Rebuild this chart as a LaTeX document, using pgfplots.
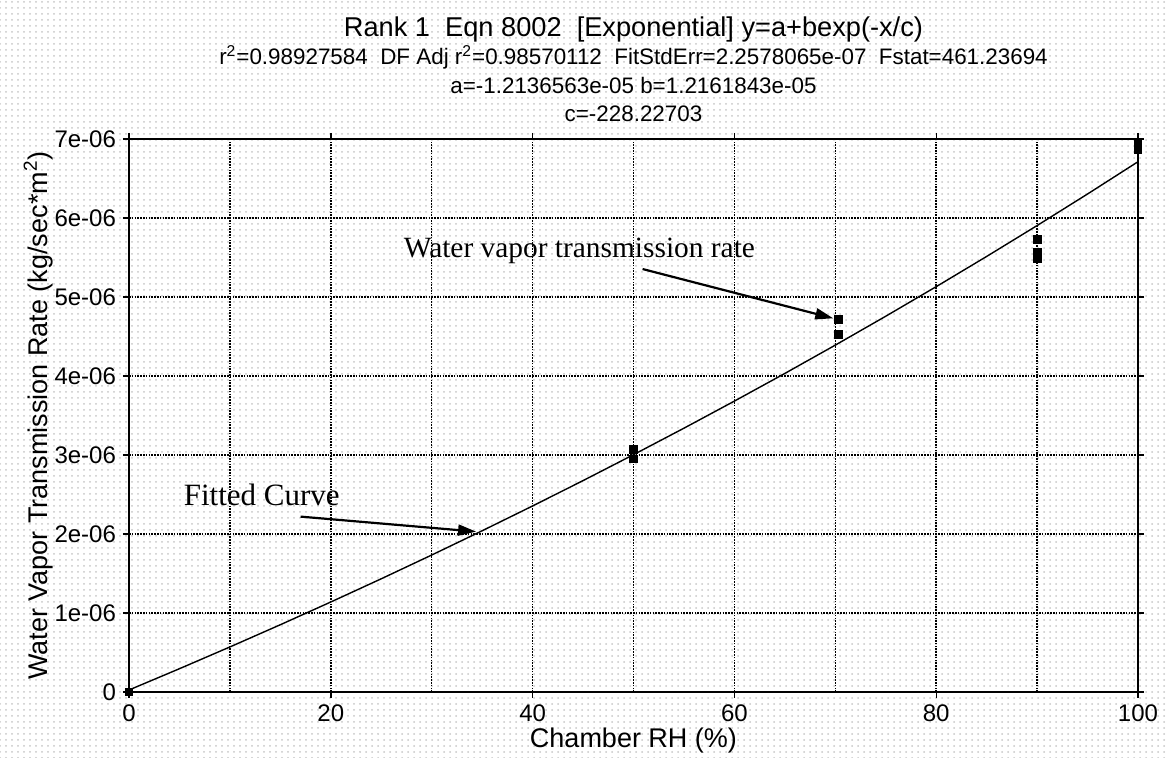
\documentclass[border=0pt]{standalone}
\usepackage{pgfplots}
\pgfplotsset{compat=1.18}
\usepackage{fontspec}
\setmainfont{Liberation Sans}
\newfontfamily\annfont{Liberation Serif}
\usetikzlibrary{arrows.meta,patterns}
\begin{document}
\begin{tikzpicture}[x=1pt,y=1pt]
\useasboundingbox (0,0) rectangle (583,379);
\fill[pattern=dots,pattern color=black!22] (0,0) rectangle (583,379);
\begin{axis}[
  at={(64.5pt,33pt)}, anchor=south west,
  scale only axis, width=504.5pt, height=276.5pt,
  xmin=0, xmax=100, ymin=0, ymax=7e-6,
  xtick={0,20,40,60,80,100},
  minor xtick={10,30,50,70,90},
  ytick={0,1e-6,2e-6,3e-6,4e-6,5e-6,6e-6,7e-6},
  yticklabels={0,1e-06,2e-06,3e-06,4e-06,5e-06,6e-06,7e-06},
  scaled y ticks=false,
  /pgf/number format/assume math mode=true,
  grid=both,
  major grid style={black,line width=0.75pt,dash pattern=on 0.8pt off 0.6pt},
  minor grid style={black,line width=0.75pt,dash pattern=on 0.8pt off 0.6pt},
  axis line style={black,line width=0.9pt},
  tick align=outside,
  major tick length=3pt, minor tick length=0pt,
  tick style={black,line width=0.7pt},
  ticklabel style={font=\fontsize{12}{14}\selectfont},
  xlabel={Chamber RH (\%)},
  ylabel={Water Vapor Transmission Rate (kg/sec*m\textsuperscript{2})},
  label style={font=\fontsize{13.5}{16}\selectfont},
  xlabel style={at={(axis description cs:0.5,-0.087)},anchor=center},
  ylabel style={at={(axis description cs:-0.09,0.5)},anchor=center},
  clip=false,
]
\addplot[black, line width=0.7pt, no marks] coordinates {
(0,2.53e-8) (5,2.947e-7) (10,5.700e-7) (15,8.515e-7) (20,1.1392e-6)
(25,1.4330e-6) (30,1.7338e-6) (35,2.0408e-6) (40,2.3550e-6) (45,2.6758e-6)
(50,3.0041e-6) (55,3.3393e-6) (60,3.6823e-6) (65,4.0325e-6) (70,4.3908e-6)
(75,4.7567e-6) (80,5.1310e-6) (85,5.5134e-6) (90,5.9044e-6) (95,6.3039e-6)
(100,6.7125e-6)};
\addplot[only marks, mark=square*, mark size=1.9pt, black] coordinates {
(0,0)
(50,3.07e-6) (50,2.95e-6)
(70.3,4.72e-6) (70.3,4.53e-6)
(90,5.73e-6) (90,5.57e-6) (90,5.48e-6)
(100,6.94e-6) (100,6.87e-6)};
\node[anchor=base west, font=\annfont\fontsize{14.7}{17}\selectfont, inner sep=0pt] at (axis cs:27.2,5.506e-6) {Water vapor transmission rate};
\draw[-{Triangle[length=9pt,width=5.5pt]}, line width=1.1pt] (axis cs:50.9,5.354e-6) -- (axis cs:69.8,4.73e-6);
\node[anchor=base west, font=\annfont\fontsize{15.5}{18}\selectfont, inner sep=0pt] at (axis cs:5.4,2.36e-6) {Fitted Curve};
\draw[-{Triangle[length=9pt,width=5.5pt]}, line width=1.1pt] (axis cs:17,2.22e-6) -- (axis cs:34.4,2.03e-6);
\end{axis}
\node[font=\fontsize{13.6}{16}\selectfont] at (316.75,364.5) {Rank 1\ \ Eqn 8002\ \ [Exponential] y=a+bexp(-x/c)};
\node[font=\fontsize{11.2}{13}\selectfont] at (316.75,350.5) {r\textsuperscript{2}=0.98927584\ \ DF Adj r\textsuperscript{2}=0.98570112\ \ FitStdErr=2.2578065e-07\ \ Fstat=461.23694};
\node[font=\fontsize{11.2}{13}\selectfont] at (316.75,336) {a=-1.2136563e-05 b=1.2161843e-05};
\node[font=\fontsize{11.2}{13}\selectfont] at (316.75,322) {c=-228.22703};
\end{tikzpicture}
\end{document}
